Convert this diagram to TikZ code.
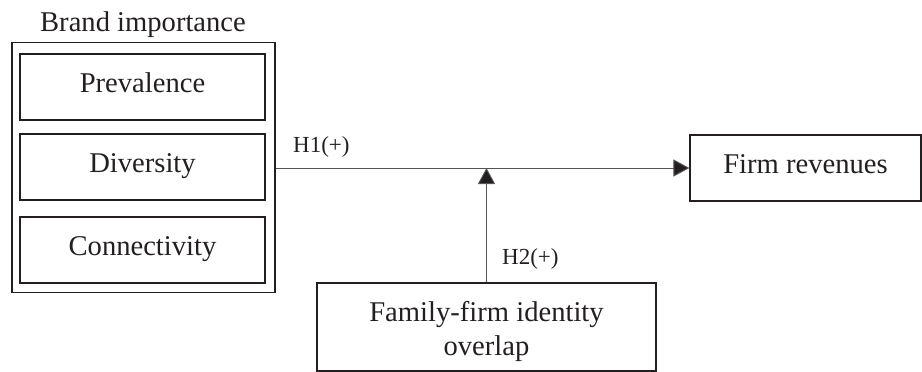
\documentclass[tikz,border=0pt]{standalone}
\usepackage{fontspec}
\setmainfont{Liberation Serif}
\usetikzlibrary{arrows.meta}
\definecolor{ink}{HTML}{231F20}
\definecolor{wire}{HTML}{555555}
\tikzset{
  box/.style={draw=ink, line width=1.2pt, inner sep=0pt, font=\fontsize{28.6}{34}\selectfont, text=ink,
    text height=20pt, text depth=10pt},
  lbl/.style={inner sep=0pt, font=\fontsize{23}{26}\selectfont, text=ink},
  conn/.style={draw=wire, line width=0.9pt, -{Triangle[length=16pt,width=17pt,fill=ink]}},
}
\begin{document}
\begin{tikzpicture}[x=1pt,y=-1pt]
\useasboundingbox (0,0) rectangle (922,372);
\node[box, minimum width=263pt, minimum height=250pt] (outer) at (143.5,167.5) {};
\node[box, minimum width=245pt, minimum height=66pt] (prev) at (142.5,87) {Prevalence};
\node[box, minimum width=245pt, minimum height=66pt] (div) at (142.5,167) {Diversity};
\node[box, minimum width=245pt, minimum height=66pt] (conn) at (142.5,250) {Connectivity};
\node[inner sep=0pt, font=\fontsize{28.6}{34}\selectfont, text=ink, anchor=base] (title) at (143,31) {Brand importance};
\node[box, minimum width=231pt, minimum height=66pt] (firm) at (805.5,168) {Firm revenues};
\node[box, minimum width=339pt, minimum height=88pt] (fam) at (486.5,327) {};
\node[inner sep=0pt, font=\fontsize{28.6}{34}\selectfont, text=ink, align=center, anchor=base] (famtxt) at (486.5,355) {Family-firm identity\\overlap};
\coordinate (junc) at (486.5,168);
\draw[conn] (outer.east |- firm.west) -- (firm.west);
\draw[conn] (fam.north) -- (junc);
\node[lbl, anchor=base west] (h1) at (293,152) {H1(+)};
\node[lbl, anchor=base west] (h2) at (502,264) {H2(+)};
\end{tikzpicture}
\end{document}
